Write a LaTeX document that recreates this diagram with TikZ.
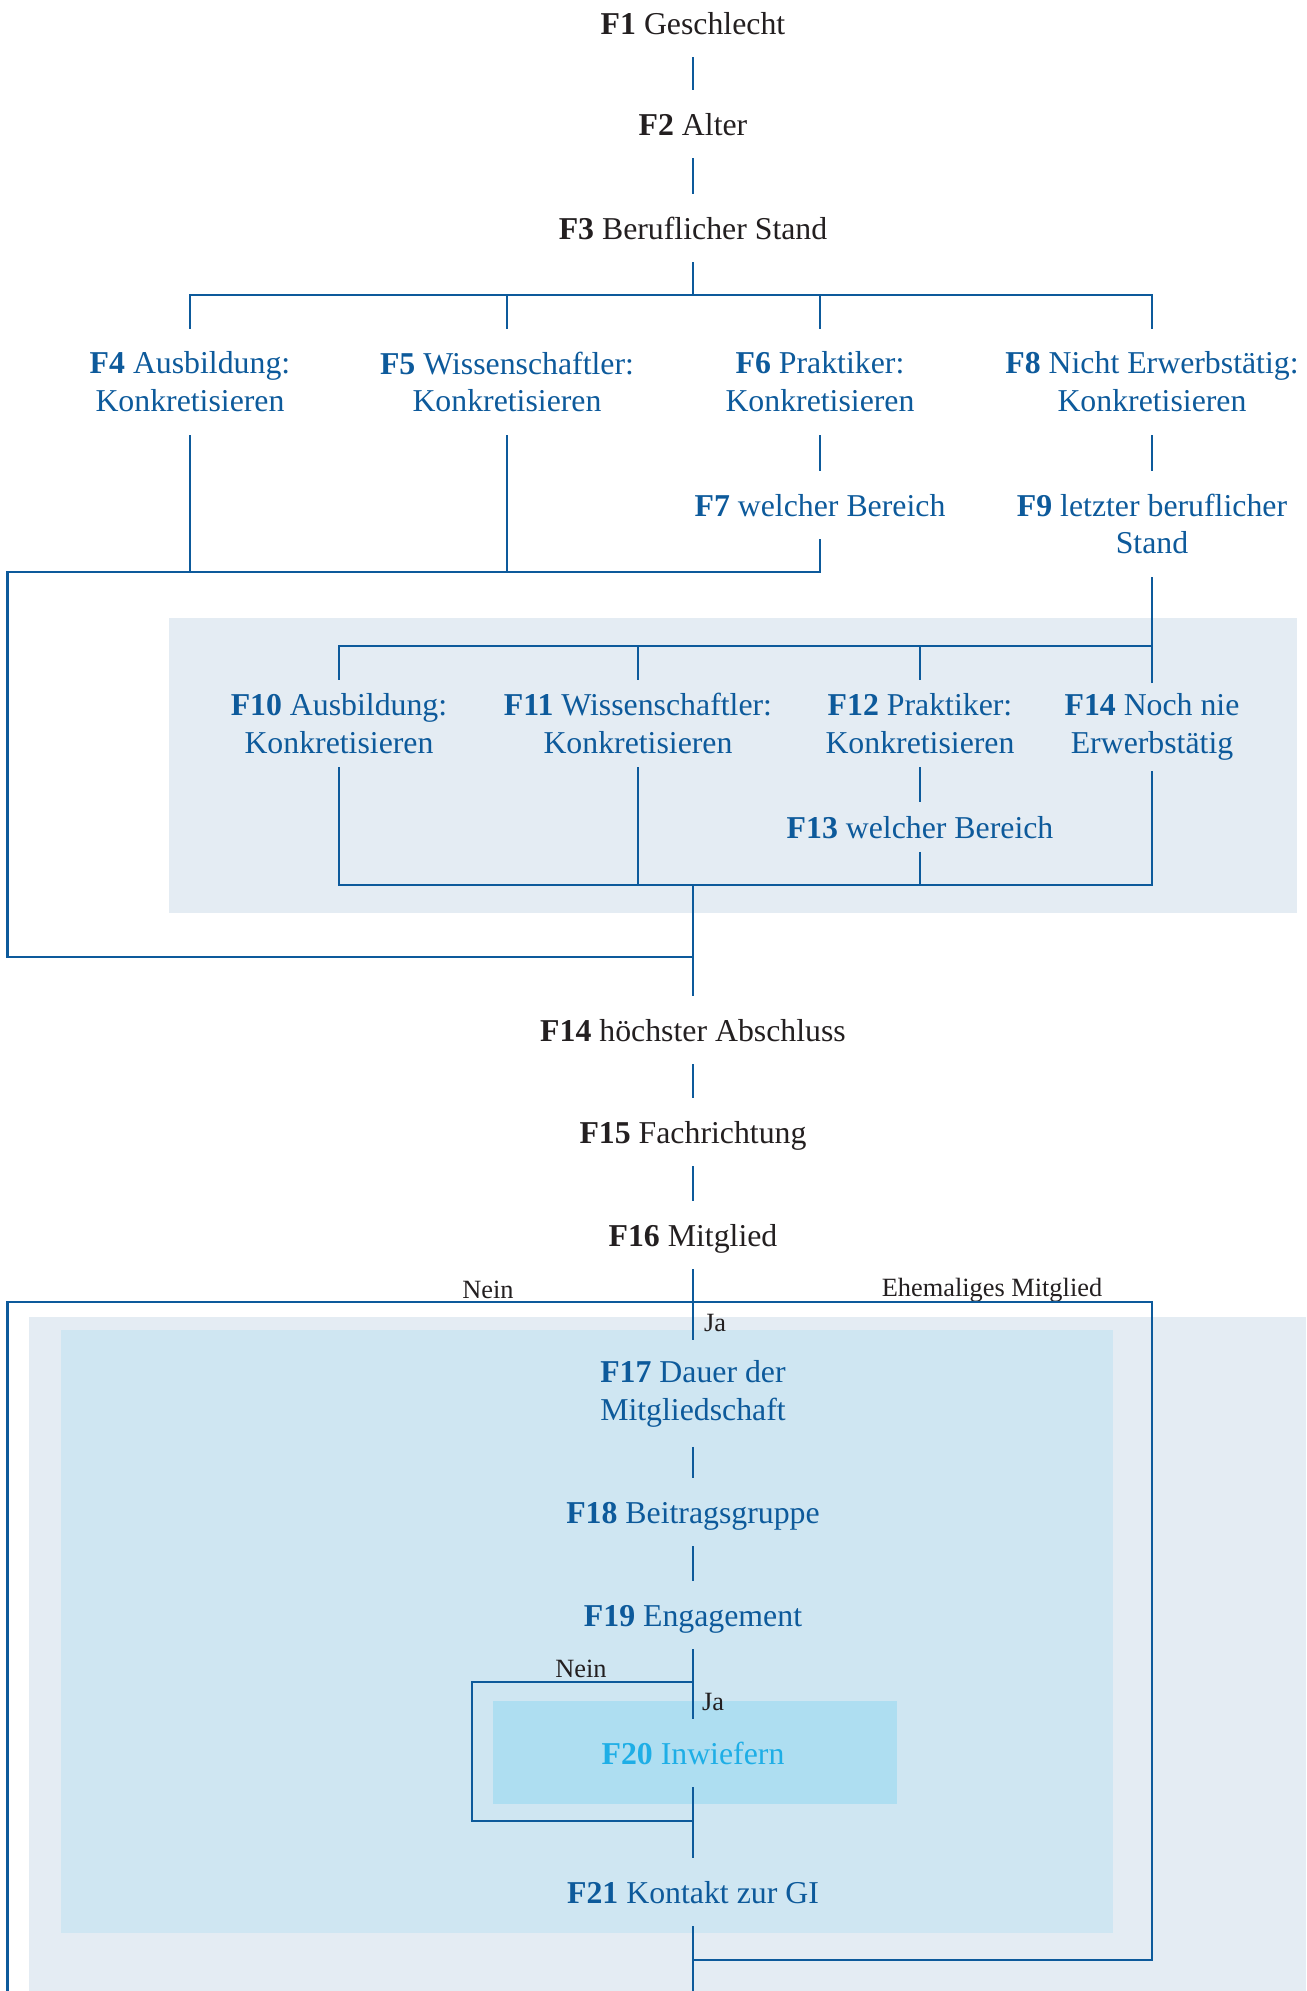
\documentclass[tikz,border=0pt]{standalone}
\usepackage{fontspec}
\setmainfont{Liberation Serif}
\definecolor{gilinie}{HTML}{0D5A9B}
\definecolor{schwarz}{HTML}{231F20}
\definecolor{grau}{HTML}{E4ECF3}
\definecolor{hellblau}{HTML}{CFE6F2}
\definecolor{tuerkis}{HTML}{AEDEF1}
\definecolor{cyan}{HTML}{1EAEE6}

\begin{document}
\begin{tikzpicture}[x=0.02cm,y=-0.02cm,
    every node/.style={align=center,inner sep=0,font=\fontsize{18.1}{21.5}\selectfont},
    q/.style={minimum height=1.36cm,text height=12.7pt,text depth=0pt,text=schwarz},
    qq/.style={minimum height=2.12cm,text=gilinie},
    qk/.style={minimum height=1.74cm,text=gilinie},
    marke/.style={font=\fontsize{15}{18}\selectfont,text=schwarz},
    linie/.style={draw=gilinie,line width=1.5pt}]
  \useasboundingbox (0,0) rectangle (1306,1991);
  \fill[grau] (169,618) rectangle (1297,913);
  \fill[grau] (29,1317) rectangle (1306,1991);
  \fill[hellblau] (61,1330) rectangle (1113,1933);
  \fill[tuerkis] (493,1701) rectangle (897,1804);

  \node[q] (f1) at (693,23) {\textbf{F1} Geschlecht};
  \node[q] (f2) at (693,124) {\textbf{F2} Alter};
  \node[q] (f3) at (693,228) {\textbf{F3} Beruflicher Stand};
  \node[qq] (f4) at (190,382) {\textbf{F4} Ausbildung:\\Konkretisieren};
  \node[qq] (f5) at (507,382) {\textbf{F5} Wissenschaftler:\\Konkretisieren};
  \node[qq] (f6) at (820,382) {\textbf{F6} Praktiker:\\Konkretisieren};
  \node[q,text=gilinie] (f7) at (820,505) {\textbf{F7} welcher Bereich};
  \node[qq] (f8) at (1152,382) {\textbf{F8} Nicht Erwerbstätig:\\Konkretisieren};
  \node[qq] (f9) at (1152,524) {\textbf{F9} letzter beruflicher\\Stand};
  \node[qk] (f10) at (339,723.5) {\textbf{F10} Ausbildung:\\Konkretisieren};
  \node[qk] (f11) at (638,723.5) {\textbf{F11} Wissenschaftler:\\Konkretisieren};
  \node[qk] (f12) at (920,723.5) {\textbf{F12} Praktiker:\\Konkretisieren};
  \node[q,text=gilinie,minimum height=0.98cm] (f13) at (920,827) {\textbf{F13} welcher Bereich};
  \node[qk] (f14n) at (1152,727) {\textbf{F14} Noch nie\\Erwerbstätig};
  \node[q] (f14) at (693,1030) {\textbf{F14} höchster Abschluss};
  \node[q] (f15) at (693,1132) {\textbf{F15} Fachrichtung};
  \node[q] (f16) at (693,1235) {\textbf{F16} Mitglied};
  \node[qq] (f17) at (693,1393.5) {\textbf{F17} Dauer der\\Mitgliedschaft};
  \node[q,text=gilinie] (f18) at (693,1512) {\textbf{F18} Beitragsgruppe};
  \node[q,text=gilinie] (f19) at (693,1615) {\textbf{F19} Engagement};
  \node[q,text=cyan] (f20) at (693,1753) {\textbf{F20} Inwiefern};
  \node[q,text=gilinie] (f21) at (693,1892) {\textbf{F21} Kontakt zur GI};

  \node[marke] (nein1) at (488,1290) {Nein};
  \node[marke] (ehem) at (992,1290) {Ehemaliges Mitglied};
  \node[marke] (ja1) at (715,1323) {Ja};
  \node[marke] (nein2) at (581,1669) {Nein};
  \node[marke] (ja2) at (713,1702) {Ja};

  \coordinate (b1) at (693,295);
  \coordinate (b2) at (7.5,572);
  \coordinate (b3) at (1152,646);
  \coordinate (b4) at (693,885);
  \coordinate (b5) at (7.5,957);
  \coordinate (b6) at (7.5,1302);
  \coordinate (b7) at (7.5,1991);
  \coordinate (b8) at (1152,1960);
  \coordinate (b9) at (472,1682);
  \coordinate (b10) at (472,1821);

  \draw[linie] (f1) -- (f2);
  \draw[linie] (f2) -- (f3);
  \draw[linie] (f3) -- (b1);
  \draw[linie] (f4) -- (f4 |- b1) -- (f8 |- b1) -- (f8);
  \draw[linie] (f5) -- (f5 |- b1) (f6) -- (f6 |- b1);
  \draw[linie] (f6) -- (f7);
  \draw[linie] (f8) -- (f9);
  \draw[linie] (f7) -- (f7 |- b2) -- (b2) -- (b5) -- (f14 |- b5);
  \draw[linie] (f4) -- (f4 |- b2) (f5) -- (f5 |- b2);
  \draw[linie] (f9) -- (b3) -- (f10 |- b3) -- (f10);
  \draw[linie] (f11) -- (f11 |- b3) (f12) -- (f12 |- b3) (f14n) -- (f14n |- b3);
  \draw[linie] (f12) -- (f13);
  \draw[linie] (f10) -- (f10 |- b4) -- (f14n |- b4) -- (f14n);
  \draw[linie] (f11) -- (f11 |- b4) (f13) -- (f13 |- b4);
  \draw[linie] (b4) -- (f14);
  \draw[linie] (f14) -- (f15);
  \draw[linie] (f15) -- (f16);
  \draw[linie] (f16) -- (f17);
  \draw[linie] (b7) -- (b6) -- (b8 |- b6) -- (b8) -- (f21 |- b8);
  \draw[linie] (f17) -- (f18);
  \draw[linie] (f18) -- (f19);
  \draw[linie] (f19) -- (f20);
  \draw[linie] (f19 |- b9) -- (b9) -- (b10) -- (f20 |- b10);
  \draw[linie] (f20) -- (f21);
  \draw[linie] (f21) -- (f21 |- b7);
\end{tikzpicture}
\end{document}
